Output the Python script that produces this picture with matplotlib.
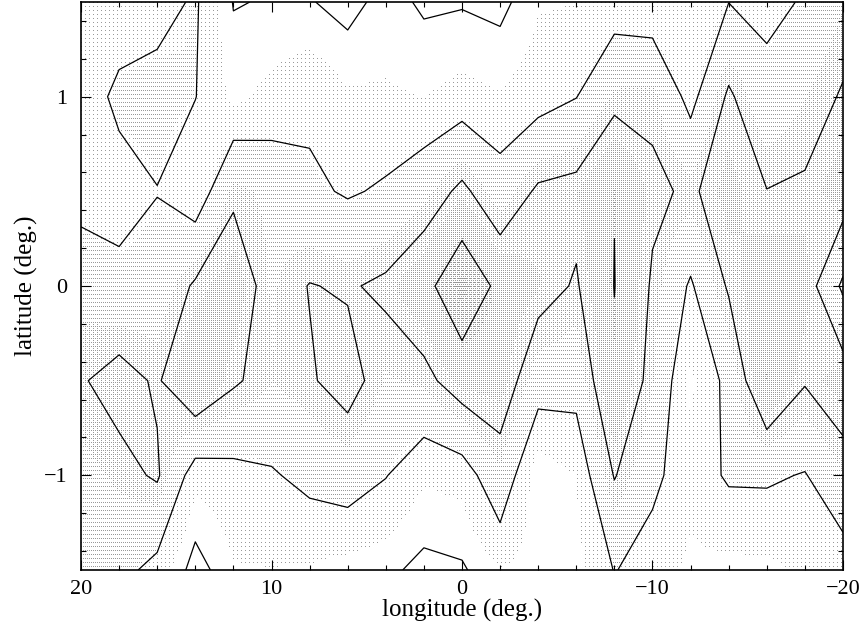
import numpy as np
import matplotlib
matplotlib.use("Agg")
import matplotlib.pyplot as plt

# grid: longitude every 2 deg (20 -> -20), latitude every 0.5 deg
lon = [20, 18, 16, 14, 12, 10, 8, 6, 4, 2, 0, -2, -4, -6, -8, -10, -12, -14, -16, -18, -20]
lat = [-1.5, -1.0, -0.5, 0.0, 0.5, 1.0, 1.5]

# intensity read back from the contour crossings, one list per latitude row
z_m15 = [2.3, 2.25, 1.75, 0.75, 1.38, 1.4, 1.37, 1.22, 1.12, 0.85, 0.93, 1.4, 1.2, 1.2, 2.03, 1.7, 1.3, 1.27, 1.3, 1.5, 1.59]
z_m10 = [2.5, 2.75, 3.1, 1.59, 1.76, 1.93, 2.2, 2.4, 2.03, 1.49, 1.6, 2.6, 1.11, 1.43, 3.05, 2.17, 1.6, 2.1, 2.11, 1.956, 2.62]
z_m05 = [2.93, 3.3, 2.9, 3.86, 3.11, 2.67, 2.92, 3.31, 2.61, 2.76, 3.45, 3.51, 2.38, 2.3, 3.85, 2.72, 1.3, 2.22, 3.95, 3.067, 3.53]
z_000 = [2.5, 2.2, 2.3, 3.12, 3.6, 2.6, 3.03, 2.92, 3.15, 3.69, 4.75, 3.75, 3.32, 2.92, 4.02, 2.9, 1.9, 3.1, 3.6, 3.5, 1.83]
z_p05 = [1.7, 1.72, 1.98, 1.46, 2.83, 2.5, 2.15, 1.92, 2.1, 2.5, 3.19, 2.36, 3.13, 3.26, 3.98, 3.16, 2.87, 3.45, 3.02, 3.1, 3.53]
z_p10 = [1.63, 2.16, 2.3, 2.02, 1.29, 1.57, 1.82, 1.5, 1.47, 1.41, 1.58, 1.46, 1.68, 1.98, 2.76, 2.83, 1.74, 3.136, 2.23, 2.65, 3.07]
z_p15 = [1.6, 1.6, 1.7, 2.1, 0.97, 1.04, 1.04, 0.79, 1.21, 0.91, 0.95, 0.84, 1.37, 1.4, 1.61, 1.49, 1.5, 1.99, 1.82, 2.06, 2.63]

levels = [1, 2, 3, 4]

xticks = [20, 10, 0, -10, -20]
xticklabels = ["20", "10", "0", "\u221210", "\u221220"]
yticks = [-1, 0, 1]
yticklabels = ["\u22121", "0", "1"]

Z = np.array([z_m15, z_m10, z_m05, z_000, z_p05, z_p10, z_p15])
lon_a = np.array(lon, float)
lat_a = np.array(lat, float)

plt.rcParams['font.family'] = ['Liberation Serif', 'DejaVu Serif']

fig = plt.figure(figsize=(8.62, 6.26), dpi=100)
ax = fig.add_axes([81/862, 1-570/626, (843-81)/862, (570-2)/626])

# greyscale as a dithered stipple, one image pixel per screen pixel
W, H = 762, 568
xs = np.linspace(20, -20, W)
ys = np.linspace(1.5, -1.5, H)
fx = np.clip((lon_a[0] - xs) / 2.0, 0, len(lon) - 1.0001)
fy = np.clip((ys - lat_a[0]) / 0.5, 0, len(lat) - 1.0001)
ix, iy = fx.astype(int), fy.astype(int)
tx, ty = fx - ix, fy - iy
z00 = Z[iy][:, ix]
z01 = Z[iy][:, ix + 1]
z10 = Z[iy + 1][:, ix]
z11 = Z[iy + 1][:, ix + 1]
zi = (z00 * (1 - tx) + z01 * tx) * (1 - ty)[:, None] + (z10 * (1 - tx) + z11 * tx) * ty[:, None]
dens = np.clip((zi - 1.1) * 0.10, 0, 0.45)
bayer = np.array([[0, 4, 1, 5],
                  [8, 12, 9, 13],
                  [2, 6, 3, 7],
                  [10, 14, 11, 15]])
thr = (np.tile(bayer, (H // 4 + 1, W // 4 + 1))[:H, :W] + 0.5) / 16.0
img = np.where(dens > thr, 0.6, 1.0)
ax.imshow(img, cmap='gray', vmin=0, vmax=1, extent=(20, -20, -1.5, 1.5),
          interpolation='nearest', aspect='auto', origin='upper', zorder=0)

ax.contour(lon, lat, Z, levels=levels, colors='k', linewidths=0.9, zorder=2)

ax.set_xlim(20, -20)
ax.set_ylim(-1.5, 1.5)
ax.set_xticks(xticks)
ax.set_xticklabels(xticklabels)
ax.set_yticks(yticks)
ax.set_yticklabels(yticklabels)
ax.set_xticks(np.arange(-20, 21, 2), minor=True)
ax.set_yticks(np.arange(-1.4, 1.5, 0.2), minor=True)
ax.tick_params(which='both', direction='in', top=True, right=True, width=0.8)
ax.tick_params(which='major', length=7, labelsize=16)
ax.tick_params(which='minor', length=3.5)
ax.tick_params(axis='x', pad=7)
ax.tick_params(axis='y', pad=10)
for s in ax.spines.values():
    s.set_linewidth(1.2)
    s.set_zorder(3)

ax.set_xlabel('longitude (deg.)', fontsize=18, labelpad=0)
ax.set_ylabel('latitude (deg.)', fontsize=18, labelpad=4)

fig.savefig('out.png', dpi=100)
